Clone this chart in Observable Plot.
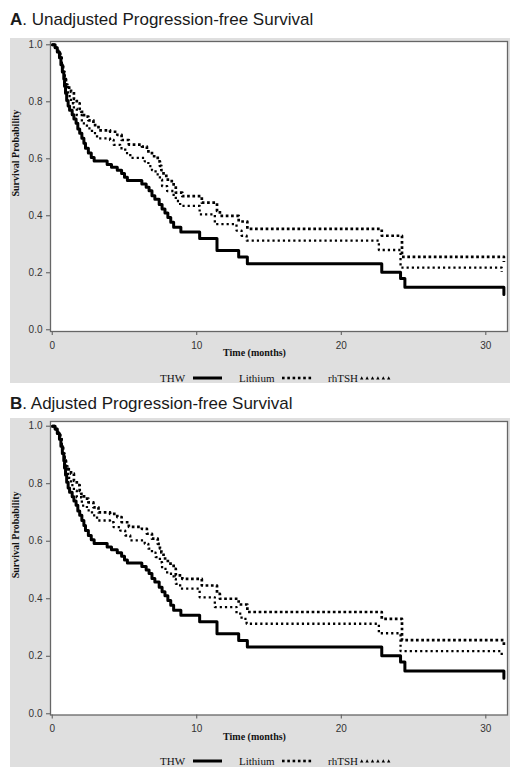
<!DOCTYPE html>
<html>
<head>
<meta charset="utf-8">
<script src="https://cdn.jsdelivr.net/npm/d3@7"></script>
<script src="https://cdn.jsdelivr.net/npm/@observablehq/plot@0.6"></script>
<style>
  html, body { margin: 0; padding: 0; background: #ffffff; }
  body { width: 517px; height: 771px; position: relative; overflow: hidden;
         font-family: "Liberation Sans", Arial, sans-serif; }
  .title { position: absolute; left: 10px; font-size: 17px; color: #1a1a1a; line-height: 20px; white-space: nowrap; }
  .box { position: absolute; left: 10px; width: 500px; background: #dfdfdf; }
  .box svg.plot { display: block; }
  .legend { position: absolute; left: 0; width: 500px; height: 16px; }
</style>
</head>
<body>
<script>
// ---- Data ----
const xTicks = [0, 10, 20, 30];
const yTicks = [0, 0.2, 0.4, 0.6, 0.8, 1.0];
const seriesNames = ["THW", "Lithium", "rhTSH"];

// THW (solid)
const thwTime = [0, 0.2, 0.35, 0.5, 0.6, 0.7, 0.8, 0.85, 0.92, 1.0, 1.1, 1.2, 1.38, 1.5, 1.65, 1.77, 1.9, 2.05, 2.19, 2.3, 2.5, 2.7, 2.9, 3.8, 4.1, 4.5, 4.8, 5.0, 5.2, 6.2, 6.5, 6.7, 6.9, 7.1, 7.4, 7.6, 7.8, 8.0, 8.2, 8.4, 8.9, 10.2, 11.4, 12.9, 13.5, 22.8, 24.1, 24.4, 31.25];
const thwSurv = [1.0, 0.99, 0.975, 0.955, 0.93, 0.905, 0.88, 0.855, 0.83, 0.805, 0.785, 0.77, 0.755, 0.74, 0.725, 0.705, 0.69, 0.672, 0.655, 0.637, 0.62, 0.605, 0.592, 0.58, 0.57, 0.56, 0.548, 0.535, 0.524, 0.512, 0.5, 0.488, 0.47, 0.458, 0.44, 0.424, 0.41, 0.394, 0.377, 0.36, 0.343, 0.32, 0.278, 0.255, 0.232, 0.202, 0.18, 0.149, 0.124];

// Lithium (dotted)
const lithiumTime = [0, 0.2, 0.4, 0.55, 0.65, 0.75, 0.85, 0.95, 1.05, 1.3, 1.5, 1.7, 1.9, 2.0, 2.2, 2.5, 2.85, 3.2, 4.0, 4.5, 4.8, 5.3, 6.2, 6.55, 6.9, 7.3, 7.45, 7.55, 7.7, 8.0, 8.4, 8.55, 9.0, 10.35, 11.4, 11.6, 12.9, 13.5, 22.8, 24.2, 31.25];
const lithiumSurv = [1.0, 0.99, 0.975, 0.955, 0.93, 0.905, 0.88, 0.86, 0.85, 0.835, 0.81, 0.795, 0.775, 0.765, 0.748, 0.735, 0.718, 0.70, 0.695, 0.684, 0.666, 0.65, 0.643, 0.626, 0.609, 0.591, 0.575, 0.56, 0.54, 0.522, 0.504, 0.481, 0.469, 0.446, 0.417, 0.40, 0.38, 0.354, 0.33, 0.256, 0.238];

// rhTSH (triangles)
const rhtshTime = [0, 0.2, 0.4, 0.55, 0.65, 0.75, 0.85, 0.95, 1.1, 1.3, 1.5, 1.7, 2.05, 2.4, 2.75, 3.1, 4.0, 4.25, 4.7, 5.05, 5.4, 6.4, 6.65, 6.9, 7.15, 7.45, 7.6, 7.95, 8.4, 8.55, 8.85, 10.2, 11.25, 12.75, 13.1, 13.45, 22.6, 24.1, 31.1];
const rhtshSurv = [1.0, 0.99, 0.975, 0.955, 0.93, 0.905, 0.88, 0.86, 0.82, 0.795, 0.776, 0.753, 0.724, 0.707, 0.69, 0.672, 0.666, 0.649, 0.637, 0.62, 0.603, 0.591, 0.574, 0.56, 0.545, 0.527, 0.504, 0.487, 0.469, 0.452, 0.435, 0.405, 0.371, 0.348, 0.33, 0.313, 0.28, 0.218, 0.203];

const panelTitles = [["A", ". Unadjusted Progression-free Survival"], ["B", ". Adjusted Progression-free Survival"]];
const xLabel = "Time (months)";
const yLabel = "Survival Probability";

// ---- Build tables ----
const toRows = (ts, ss) => ts.map((t, i) => ({t, s: ss[i]}));
const thw = toRows(thwTime, thwSurv);
const lithium = toRows(lithiumTime, lithiumSurv);
const rhtsh = toRows(rhtshTime, rhtshSurv);

const serif = "'Liberation Serif', 'Times New Roman', serif";
const sans = "'Liberation Sans', Arial, sans-serif";

function panel(cfg) {
  const t = document.createElement("div");
  t.className = "title";
  t.style.top = cfg.titleTop + "px";
  t.innerHTML = `<b>${cfg.title[0]}</b>${cfg.title[1]}`;
  document.body.appendChild(t);

  const box = document.createElement("div");
  box.className = "box";
  box.style.top = cfg.boxTop + "px";
  box.style.height = cfg.boxHeight + "px";
  document.body.appendChild(box);

  const chart = Plot.plot({
    width: 500,
    height: cfg.height,
    marginLeft: 40,
    marginRight: 3,
    marginTop: 3,
    marginBottom: cfg.marginBottom,
    style: {background: "transparent", fontSize: "10px", fontFamily: sans, color: "#333", overflow: "visible"},
    x: {domain: [-0.12, 31.5]},
    y: {domain: cfg.yDomain},
    marks: [
      Plot.frame({fill: "white", stroke: null}),
      Plot.axisY({ticks: yTicks, tickFormat: d3.format(".1f"), tickSize: 4, tickPadding: 4, label: null, stroke: "#555", fill: "#333"}),
      Plot.axisX({ticks: xTicks, tickFormat: d3.format("d"), tickSize: 4, tickPadding: 6, label: null, stroke: "#555", fill: "#333"}),
      Plot.line(rhtsh, {x: "t", y: "s", curve: "step-after", stroke: "black", strokeWidth: 2.3, strokeDasharray: "2.2 3", strokeLinecap: "butt"}),
      Plot.line(lithium, {x: "t", y: "s", curve: "step-after", stroke: "black", strokeWidth: 2.7, strokeDasharray: "2.7 2.6", strokeLinecap: "butt"}),
      Plot.line(thw, {x: "t", y: "s", curve: "step-after", stroke: "black", strokeWidth: 3}),
      Plot.frame({stroke: "#666", strokeWidth: 1.3}),
      Plot.text([xLabel], {frameAnchor: "bottom", dx: -24.5, dy: 24.7, fontWeight: "bold", fontFamily: serif, fontSize: 10, fill: "#111"}),
      Plot.text([yLabel], {frameAnchor: "left", rotate: -90, dx: -35, dy: 10, fontWeight: "bold", fontFamily: serif, fontSize: 10, fill: "#111"})
    ]
  });
  chart.classList.add("plot");
  box.appendChild(chart);

  // Legend (below the plot, inside the grey box)
  const ns = "http://www.w3.org/2000/svg";
  const lg = document.createElementNS(ns, "svg");
  lg.setAttribute("class", "legend");
  lg.setAttribute("width", 500);
  lg.setAttribute("height", 16);
  lg.style.top = (cfg.legendCenter - 8) + "px";
  const cy = 8;
  const addText = (x, s) => {
    const el = document.createElementNS(ns, "text");
    el.setAttribute("x", x); el.setAttribute("y", cy + 3.8);
    el.setAttribute("font-family", serif); el.setAttribute("font-size", 11);
    el.setAttribute("fill", "#111");
    el.textContent = s; lg.appendChild(el);
  };
  addText(150, seriesNames[0]);
  const ln = document.createElementNS(ns, "line");
  ln.setAttribute("x1", 183); ln.setAttribute("x2", 212); ln.setAttribute("y1", cy); ln.setAttribute("y2", cy);
  ln.setAttribute("stroke", "black"); ln.setAttribute("stroke-width", 3);
  lg.appendChild(ln);
  addText(229, seriesNames[1]);
  for (let i = 0; i < 6; i++) {
    const r = document.createElementNS(ns, "rect");
    r.setAttribute("x", 272 + i * 5.3); r.setAttribute("y", cy - 1.3);
    r.setAttribute("width", 2.6); r.setAttribute("height", 2.6);
    r.setAttribute("fill", "black"); lg.appendChild(r);
  }
  addText(318, seriesNames[2]);
  for (let i = 0; i < 6; i++) {
    const p = document.createElementNS(ns, "path");
    const x0 = 350 + i * 5.4;
    p.setAttribute("d", `M${x0},${cy + 1.6}L${x0 + 3.4},${cy + 1.6}L${x0 + 1.7},${cy - 1.8}Z`);
    p.setAttribute("fill", "black"); lg.appendChild(p);
  }
  box.appendChild(lg);
}

panel({title: panelTitles[0], titleTop: 9.5, boxTop: 38, boxHeight: 345, height: 330, marginBottom: 37, yDomain: [-0.006, 1.0116], legendCenter: 339.7});
panel({title: panelTitles[1], titleTop: 393.8, boxTop: 418, boxHeight: 349, height: 333, marginBottom: 36.5, yDomain: [-0.0042, 1.0163], legendCenter: 343});
</script>
</body>
</html>
